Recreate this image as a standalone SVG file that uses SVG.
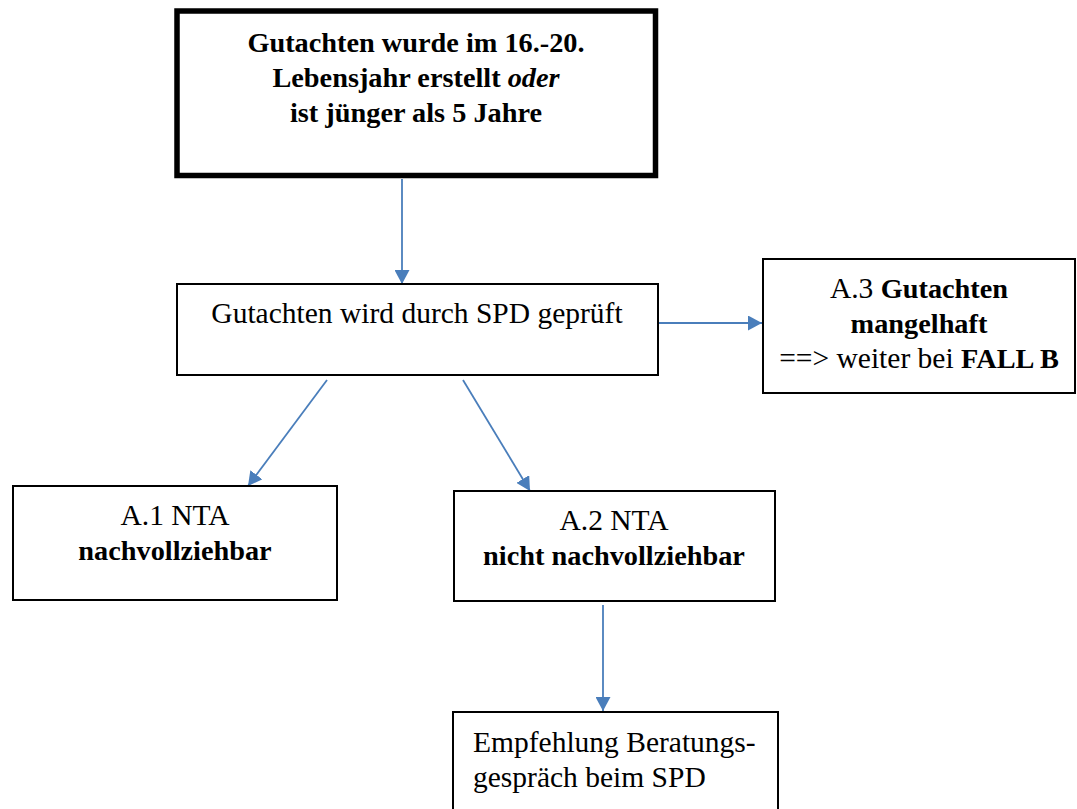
<svg xmlns="http://www.w3.org/2000/svg" width="1077" height="809" viewBox="0 0 1077 809">
  <defs>
    <style>
      .box { fill: #ffffff; stroke: #000000; stroke-width: 2; }
      .thick { fill: #ffffff; stroke: #000000; stroke-width: 5.5; }
      .t { font-family: "Liberation Serif", "Times New Roman", serif; font-size: 29.5px; fill: #000000; }
      .c { text-anchor: middle; }
      .b { font-weight: bold; font-size: 28.3px; }
      .i { font-style: italic; }
      .conn { stroke: #4a7ebb; stroke-width: 1.8; fill: none; marker-end: url(#arr); }
    </style>
    <marker id="arr" markerUnits="userSpaceOnUse" markerWidth="15" markerHeight="15" refX="14" refY="7.5" orient="auto">
      <path d="M0,0 L14,7.5 L0,15 Z" fill="#4a7ebb"/>
    </marker>
  </defs>
  <rect width="1077" height="809" fill="#ffffff"/>

  <g id="connectors">
    <line class="conn" x1="402" y1="179" x2="402" y2="284"/>
    <line class="conn" x1="659" y1="323" x2="762" y2="323"/>
    <line class="conn" x1="327" y1="380" x2="248" y2="486"/>
    <line class="conn" x1="463" y1="380" x2="530" y2="491"/>
    <line class="conn" x1="603" y1="605" x2="603" y2="711"/>
  </g>

  <g id="node-start">
    <rect class="thick" x="177" y="11" width="478.5" height="164.5"/>
    <text class="t c b" x="416" y="52">Gutachten wurde im 16.-20.</text>
    <text class="t c b" x="416" y="87">Lebensjahr erstellt <tspan class="i">oder</tspan></text>
    <text class="t c b" x="416" y="122">ist jünger als 5 Jahre</text>
  </g>

  <g id="node-check">
    <rect class="box" x="177" y="284" width="481" height="91"/>
    <text class="t c" x="417" y="323">Gutachten wird durch SPD geprüft</text>
  </g>

  <g id="node-a3">
    <rect class="box" x="763" y="259" width="312" height="134"/>
    <text class="t c" x="919" y="298">A.3 <tspan class="b">Gutachten</tspan></text>
    <text class="t c b" x="919" y="333">mangelhaft</text>
    <text class="t c" x="919" y="368">==&gt; weiter bei <tspan class="b">FALL B</tspan></text>
  </g>

  <g id="node-a1">
    <rect class="box" x="13" y="486" width="324" height="114"/>
    <text class="t c" x="175" y="525">A.1 NTA</text>
    <text class="t c b" x="175" y="560">nachvollziehbar</text>
  </g>

  <g id="node-a2">
    <rect class="box" x="454" y="491" width="321" height="110"/>
    <text class="t c" x="614" y="530">A.2 NTA</text>
    <text class="t c b" x="614" y="565">nicht nachvollziehbar</text>
  </g>

  <g id="node-advice">
    <rect class="box" x="453" y="712" width="325" height="120"/>
    <text class="t" x="473" y="752">Empfehlung Beratungs-</text>
    <text class="t" x="473" y="787">gespräch beim SPD</text>
  </g>
</svg>
